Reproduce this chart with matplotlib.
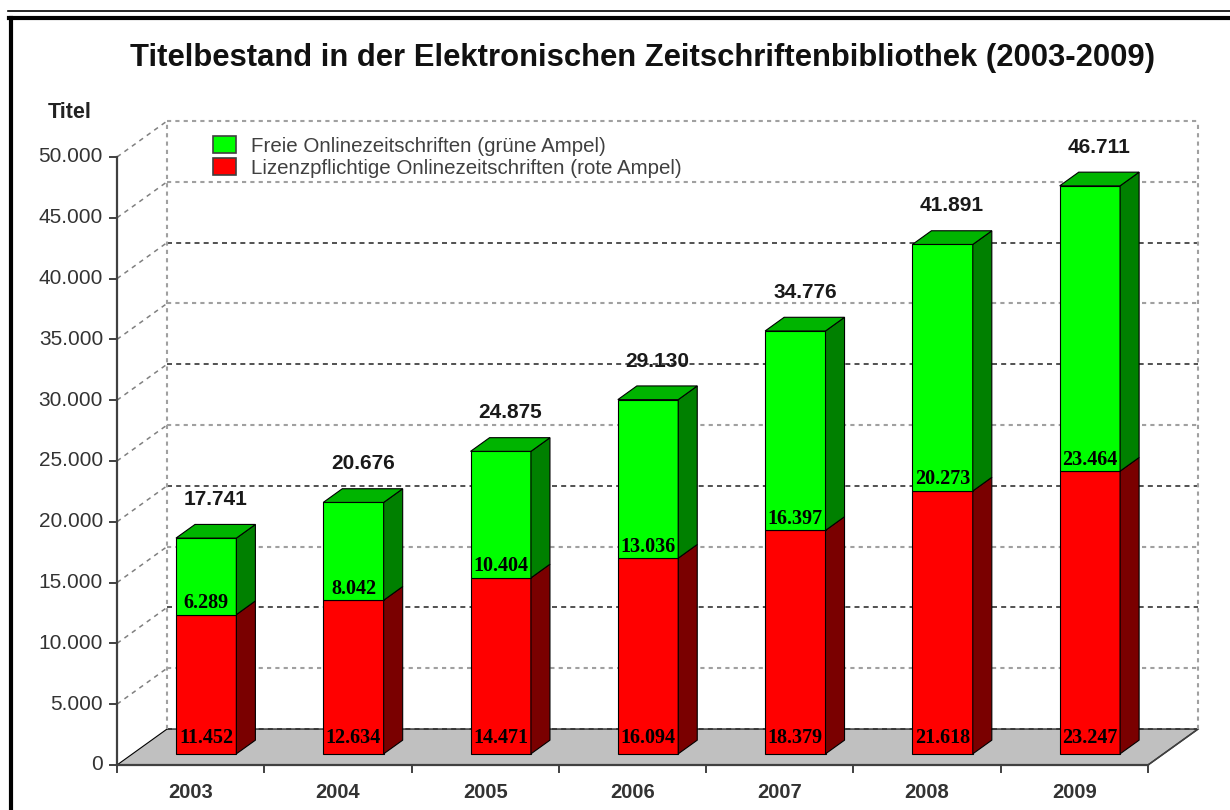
import matplotlib
matplotlib.use("Agg")
import matplotlib.pyplot as plt
from matplotlib.patches import Polygon, Patch
from matplotlib.lines import Line2D

plt.rcParams["font.family"] = ["Liberation Sans", "DejaVu Sans"]

# data
years = ["2003", "2004", "2005", "2006", "2007", "2008", "2009"]
lizenz = [11452, 12634, 14471, 16094, 18379, 21618, 23247]   # red segment
frei = [6289, 8042, 10404, 13036, 16397, 20273, 23464]        # green segment
totals = [17741, 20676, 24875, 29130, 34776, 41891, 46711]
yticks = list(range(0, 50001, 5000))

# pseudo-3D geometry (data units)
DX, DY = 0.34, 2960          # full depth offset
Z0, Z1 = 0.31, 0.69          # bar front/back depth
BW = 0.41                    # bar width
PX_X, PX_Y = 147.3, 0.01216  # pixels per category / per value


def proj(x, y, z):
    return x + z * DX, y + z * DY


def face(ax, pts, color, z=3):
    ax.add_patch(Polygon([proj(*p) for p in pts], closed=True, facecolor=color,
                         edgecolor="black", lw=0.8, zorder=z, clip_on=False))


def fmt(v):
    return f"{v:,}".replace(",", ".")


fig = plt.figure(figsize=(12.3, 8.1), dpi=100)
ax = fig.add_axes([117 / 1230, 45 / 810, 1031 / 1230, 608 / 810])
ax.set_xlim(-0.5, 6.5)
ax.set_ylim(0, 50000)
ax.axis("off")
xl, xr = -0.5, 6.5

# floor
face(ax, [(xl, 0, 0), (xr, 0, 0), (xr, 0, 1), (xl, 0, 1)], "#c0c0c0", z=0)
ax.plot(*zip(proj(xr, 0, 0), proj(xr, 0, 1)), color="#404040", lw=1.2, zorder=1, clip_on=False)

# walls / grid
for v in yticks:
    dark = v % 10000 == 0 and v != 50000
    style = dict(color="#333333", lw=1.2, ls=(0, (3, 2.5))) if dark else \
        dict(color="#a0a0a0", lw=1.5, ls=(0, (2, 2)))
    ax.plot(*zip(proj(xl, v, 1), proj(xr, v, 1)), zorder=1, clip_on=False, **style)
    if v > 0:
        ax.plot(*zip(proj(xl, v, 0), proj(xl, v, 1)), color="#808080", lw=1.1,
                ls=(0, (3, 3)), zorder=1, clip_on=False)
for xe in (xl, xr):
    ax.plot(*zip(proj(xe, 0, 1), proj(xe, 50000, 1)), color="#a0a0a0", lw=1.5,
            ls=(0, (2, 2)), zorder=1, clip_on=False)

# bars
for i, (r, g, t) in enumerate(zip(lizenz, frei, totals)):
    x0, x1 = i - BW / 2, i + BW / 2
    for lo, hi, fc, sc in ((0, r, "#ff0000", "#7a0000"), (r, r + g, "#00ff00", "#008000")):
        face(ax, [(x0, lo, Z0), (x1, lo, Z0), (x1, hi, Z0), (x0, hi, Z0)], fc)
        face(ax, [(x1, lo, Z0), (x1, lo, Z1), (x1, hi, Z1), (x1, hi, Z0)], sc)
    face(ax, [(x0, t, Z0), (x1, t, Z0), (x1, t, Z1), (x0, t, Z1)], "#00b400")

    cx = i + Z0 * DX
    ax.text(cx, Z0 * DY + 1300, fmt(r), ha="center", va="center", fontsize=14.5,
            fontweight="bold", family="Liberation Serif", zorder=5)
    ax.text(cx, Z0 * DY + r + 950, fmt(g), ha="center", va="center", fontsize=14.5,
            fontweight="bold", family="Liberation Serif", zorder=5)
    ax.text(i + 0.5 * DX, t + Z1 * DY + 2050, fmt(t), ha="center", va="center",
            fontsize=15, fontweight="bold", color="#1a1a1a", zorder=5)

# axes lines, ticks, labels
ax.plot([xl, xl], [0, 50000], color="#404040", lw=1.6, zorder=4, clip_on=False)
ax.plot([xl, xr], [0, 0], color="#404040", lw=1.6, zorder=4, clip_on=False)
tk_x = 7 / PX_X
tk_y = 7 / PX_Y
for v in yticks:
    ax.plot([xl - tk_x, xl], [v, v], color="#404040", lw=1.4, clip_on=False, zorder=4)
    ax.text(xl - 14 / PX_X, v, fmt(v), ha="right", va="center", fontsize=15, color="#333333")
for b in range(len(years) + 1):
    ax.plot([b - 0.5, b - 0.5], [0, -tk_y], color="#404040", lw=1.4, clip_on=False, zorder=4)
for i, yr in enumerate(years):
    ax.text(i, -28 / PX_Y, yr, ha="center", va="center", fontsize=14.5,
            fontweight="bold", color="#333333")

ax.text(xl - 47 / PX_X, 53700, "Titel", ha="center", va="center", fontsize=15.5,
        fontweight="bold", color="#222222")

handles = [Patch(facecolor="#00ff00", edgecolor="#404040", lw=1.2),
           Patch(facecolor="#ff0000", edgecolor="#404040", lw=1.2)]
ax.legend(handles, ["Freie Onlinezeitschriften (grüne Ampel)",
                    "Lizenzpflichtige Onlinezeitschriften (rote Ampel)"],
          loc="upper left", bbox_to_anchor=(203 / 1230, 1 - 126 / 810),
          bbox_transform=fig.transFigure, frameon=False, fontsize=14.8,
          handlelength=1.1, handleheight=0.9, handletextpad=0.75,
          labelspacing=0.12, borderpad=0, labelcolor="#404040")

fig.text(642 / 1230, 1 - 58 / 810,
         "Titelbestand in der Elektronischen Zeitschriftenbibliothek (2003-2009)",
         ha="center", va="center", fontsize=22.3, fontweight="bold", color="#111111")

# outer frame
fig.add_artist(Line2D([8 / 1230, 1], [1 - 11 / 810] * 2, color="black", lw=1.2))
fig.add_artist(Line2D([9 / 1230, 1], [1 - 18 / 810] * 2, color="black", lw=3))
fig.add_artist(Line2D([10.5 / 1230] * 2, [0, 1 - 18 / 810], color="black", lw=3))

fig.savefig("out.png", dpi=100)
